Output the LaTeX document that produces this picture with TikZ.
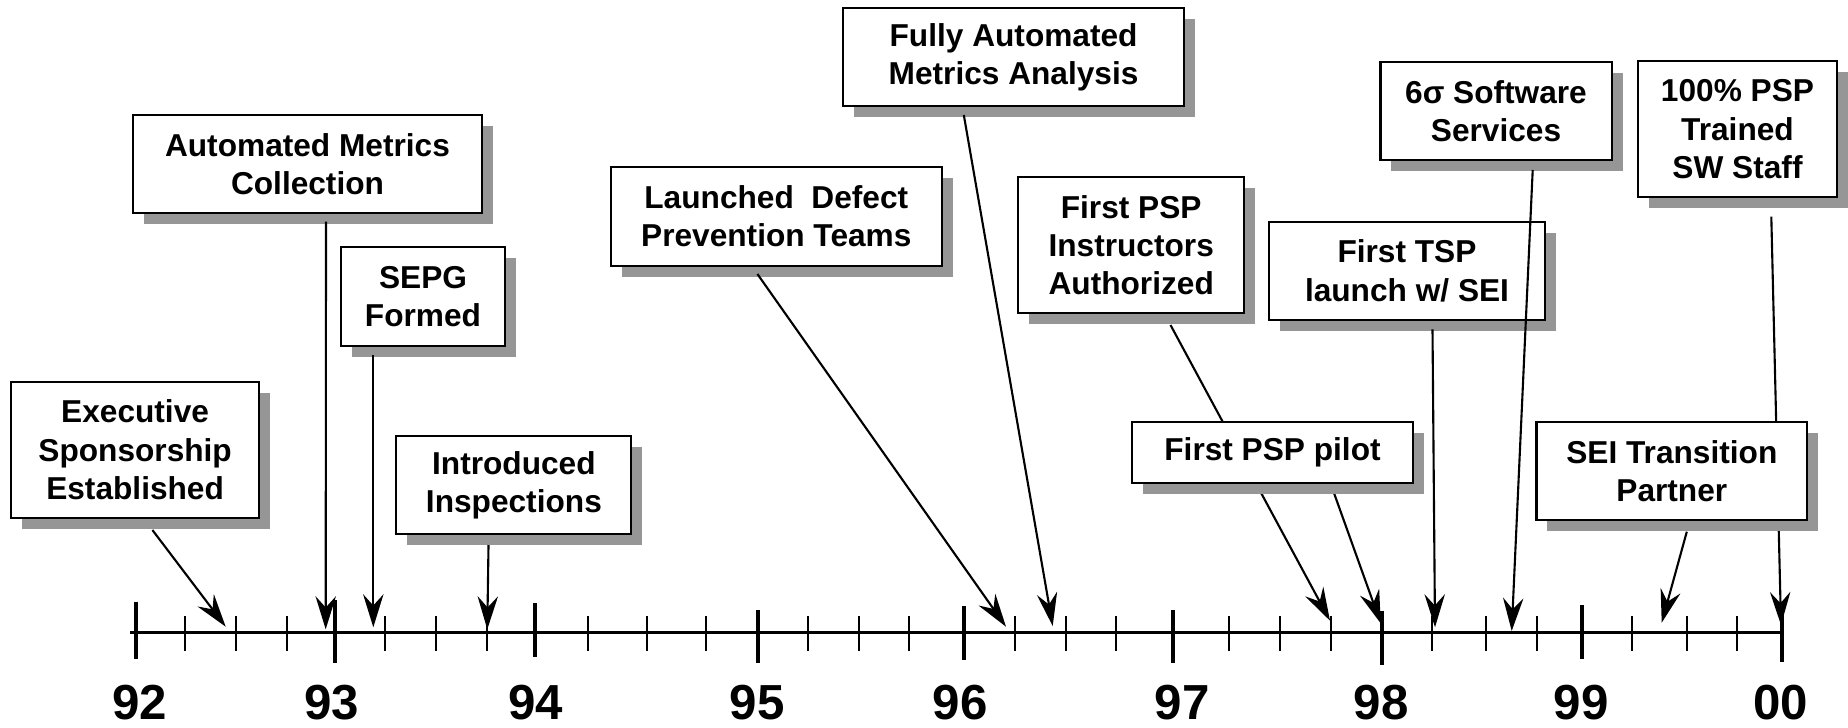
\documentclass[tikz,border=0pt]{standalone}
\usepackage{fontspec}
\setmainfont{Liberation Sans}
\usetikzlibrary{arrows.meta,shadows}
\definecolor{shadowgray}{RGB}{150,150,150}

\begin{document}
\begin{tikzpicture}[x=0.01cm, y=-0.01cm,
  event/.style={draw, line width=0.6pt, fill=white, align=center, inner sep=0pt,
    font=\fontsize{9}{10.9}\selectfont\bfseries,
    drop shadow={shadow xshift=0.11cm, shadow yshift=-0.11cm, fill=shadowgray, opacity=1}},
  conn/.style={line width=0.6pt, -{Stealth[length=9.4pt, width=5.8pt, inset=3.2pt]}},
  year/.style={font=\fontsize{14}{16}\selectfont\bfseries, anchor=base, inner sep=0pt},
  major/.style={line width=1.2pt},
  minor/.style={line width=0.6pt}]

\useasboundingbox (0,0) rectangle (1848,727);

% ---------- time axis ----------
\coordinate (axL) at (130,632.5);
\coordinate (axR) at (1781.7,632.5);
\draw[line width=0.6pt] (axL) -- (axR);

% year ticks
\draw[major] (136,601.7) -- (136,659);
\draw[major] (334.7,600) -- (334.7,662.7);
\draw[major] (535.3,603.3) -- (535.3,656.7);
\draw[major] (758.3,610) -- (758.3,663.3);
\draw[major] (964,606) -- (964,660);
\draw[major] (1173.3,610) -- (1173.3,663.3);
\draw[major] (1381.7,610.7) -- (1381.7,665);
\draw[major] (1581.7,605) -- (1581.7,659);
\draw[major] (1781.7,605) -- (1781.7,662.3);

% quarter ticks
\foreach \q in {185.3,236,286.7, 385,436,486.7, 588.3,646.7,706,
                808.3,858.7,909.3, 1015,1066,1116, 1229.3,1280,1330.7,
                1431.7,1486,1536.7, 1632.3,1686.7,1737.3}
  \draw[minor] (\q,616) -- (\q,651.3);

% year labels
\node[year] (y92) at (140,719) {92};
\node[year] (y93) at (332,719) {93};
\node[year] (y94) at (536,719) {94};
\node[year] (y95) at (757.3,719) {95};
\node[year] (y96) at (960,719) {96};
\node[year] (y97) at (1182,719) {97};
\node[year] (y98) at (1381.3,719) {98};
\node[year] (y99) at (1581.3,719) {99};
\node[year] (y00) at (1780.5,719) {00};

% ---------- connector ends ----------
\coordinate (sExec)  at (152.4,530);   \coordinate (tExec)  at (225.7,626.7);
\coordinate (sAmc)   at (326,221.7);   \coordinate (tAmc)   at (325.7,629.3);
\coordinate (sSepg)  at (373.3,355);   \coordinate (tSepg)  at (373.3,627.3);
\coordinate (sInsp)  at (488.5,545);   \coordinate (tInsp)  at (487.3,629.3);
\coordinate (sLaun)  at (757.4,274);   \coordinate (tLaun)  at (1006,626.7);
\coordinate (sFull)  at (963.8,115);   \coordinate (tFull)  at (1052.7,626);
\coordinate (sInstr) at (1170.5,325);  \coordinate (tInstr) at (1330,620.7);
\coordinate (sPilot) at (1332.3,488.3);\coordinate (tPilot) at (1380.7,623.3);
\coordinate (sTsp)   at (1432.5,329.3);\coordinate (tTsp)   at (1435,627.3);
\coordinate (sSix)   at (1532.7,170);  \coordinate (tSix)   at (1511.7,631);
\coordinate (sFull2) at (1771.3,216.7);\coordinate (tFull2) at (1781,625);
\coordinate (sSeit)  at (1686.8,531.7);\coordinate (tSeit)  at (1661.7,622.7);

% ---------- milestone boxes ----------
\node[event, minimum width=2.474cm, minimum height=1.36cm] (exec) at (135.1,449.7)
  {Executive\\Sponsorship\\Established};
\node[event, minimum width=3.49cm, minimum height=0.983cm] (amc) at (307.5,164.2)
  {Automated Metrics\\Collection};
\node[event, minimum width=1.64cm, minimum height=0.993cm] (sepg) at (423,296.3)
  {SEPG\\Formed};
\node[event, minimum width=2.348cm, minimum height=0.98cm] (insp) at (513.9,485)
  {Introduced\\Inspections};
\node[event, minimum width=3.313cm, minimum height=0.984cm] (laun) at (776.3,216.5)
  {Launched\ \ Defect\\Prevention Teams};
\node[event, minimum width=3.408cm, minimum height=0.977cm] (full) at (1013.6,57.2)
  {Fully Automated\\Metrics Analysis};
\node[event, minimum width=2.256cm, minimum height=1.36cm] (instr) at (1131.2,245.3)
  {First PSP\\Instructors\\Authorized};
\node[event, minimum width=2.753cm, minimum height=0.983cm] (tsp) at (1407,270.8)
  {First TSP\\launch w/ SEI};
\node[event, minimum width=2.31cm, minimum height=0.977cm] (six) at (1496,111.2)
  {6σ Software\\Services};
\node[event, minimum width=1.99cm, minimum height=1.363cm] (pspall) at (1737.5,129.2)
  {100\% PSP\\Trained\\SW Staff};

% ---------- connectors ----------
\draw[conn] (sExec) -- (tExec);
\draw[conn] (sAmc) -- (tAmc);
\draw[conn] (sSepg) -- (tSepg);
\draw[conn] (sInsp) -- (tInsp);
\draw[conn] (sLaun) -- (tLaun);
\draw[conn] (sFull) -- (tFull);
\draw[conn] (sInstr) -- (tInstr);
\draw[conn] (sPilot) -- (tPilot);
\draw[conn] (sTsp) -- (tTsp);
\draw[conn] (sSix) -- (tSix);
\draw[conn] (sFull2) -- (tFull2);
\draw[conn] (sSeit) -- (tSeit);

% boxes that sit over connectors
\node[event, minimum width=2.801cm, minimum height=0.604cm] (pilot) at (1272.5,452.5)
  {First PSP pilot};
\node[event, minimum width=2.705cm, minimum height=0.977cm] (seit) at (1671.8,471.2)
  {SEI Transition\\Partner};

\end{tikzpicture}
\end{document}
